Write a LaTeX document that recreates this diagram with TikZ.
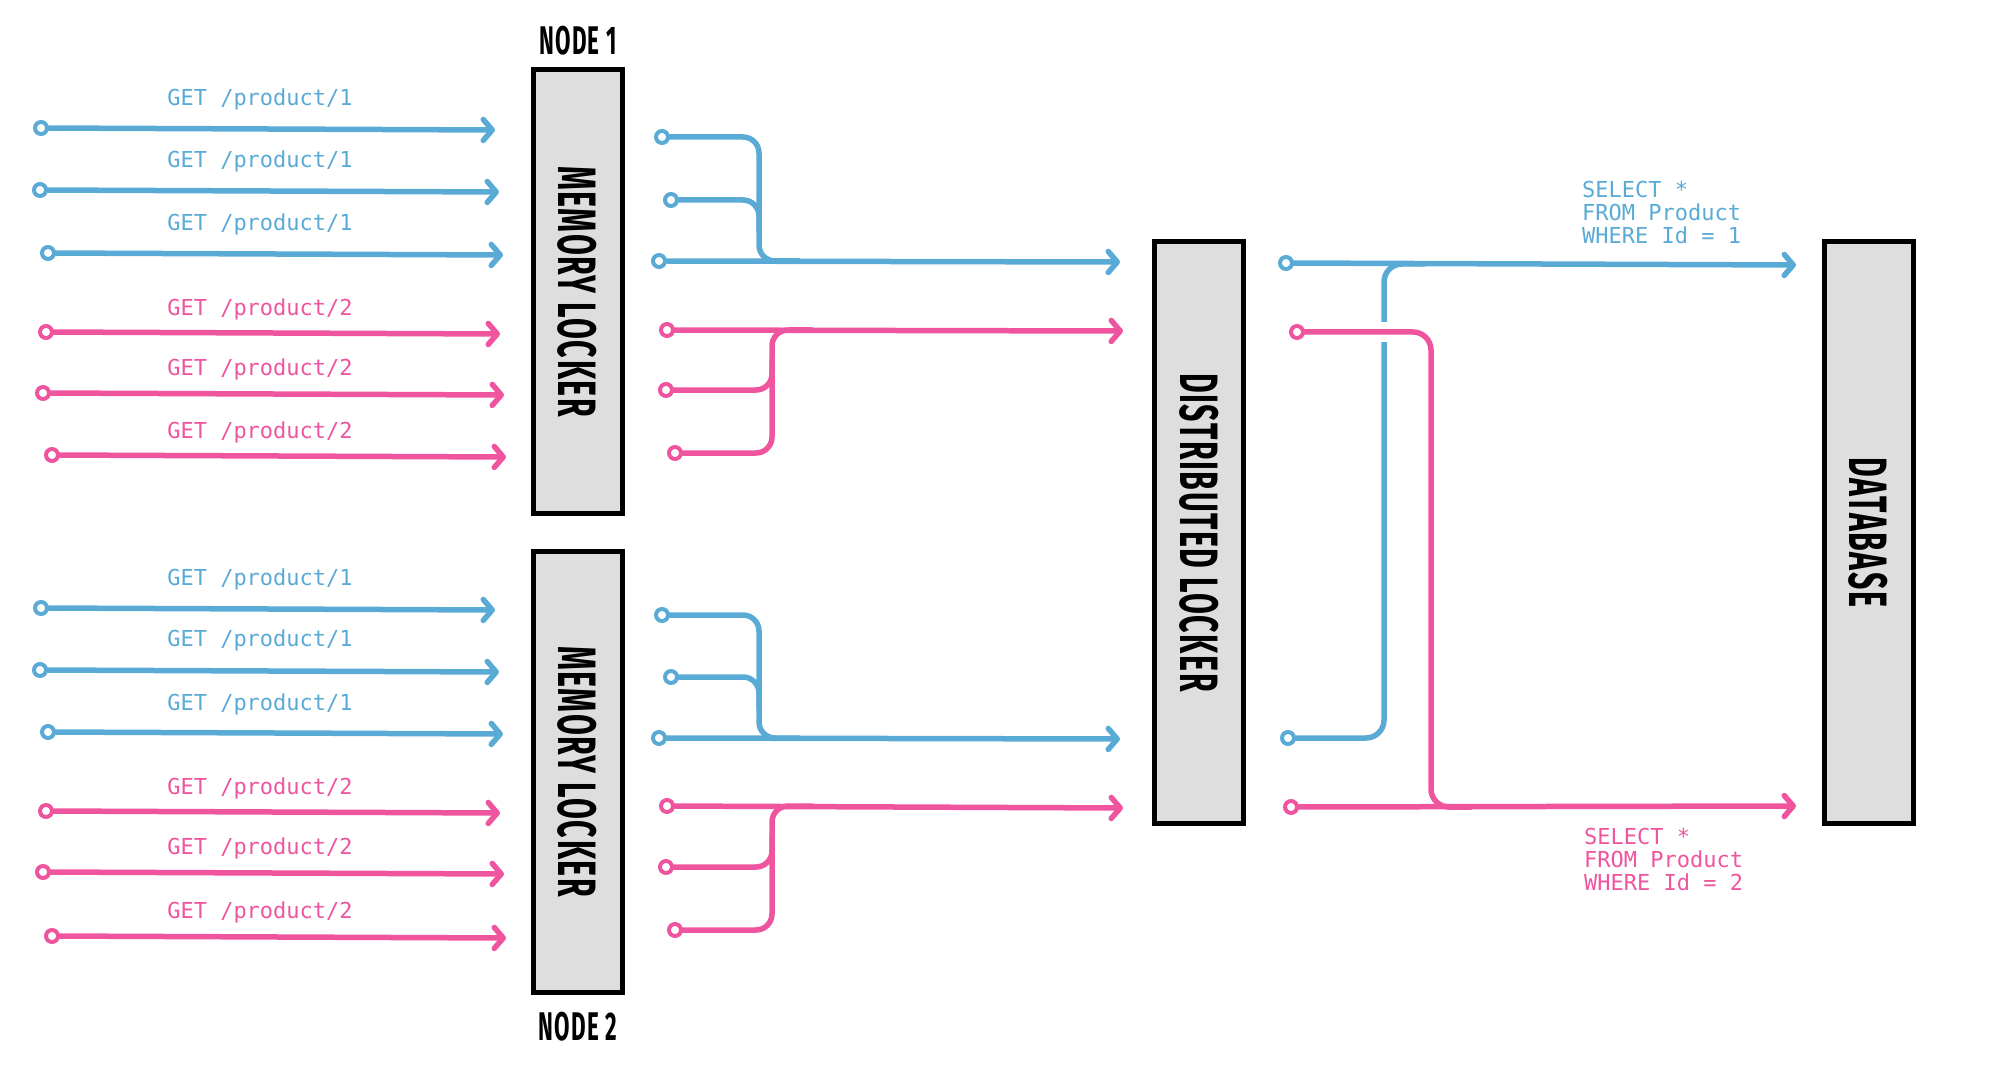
\documentclass[tikz,border=0pt]{standalone}
\usepackage{fontspec}
\usetikzlibrary{arrows.meta}
\usetikzlibrary{calc}
\usepackage{xcolor}
\newfontfamily\handfont[FakeStretch=0.56, LetterSpace=3]{Fira Sans}
\newfontfamily\codefont{DejaVu Sans Mono}
\definecolor{reqblue}{HTML}{5AAAD6}
\definecolor{reqpink}{HTML}{EF559F}
\definecolor{boxgray}{HTML}{DEDEDE}

\tikzset{
  wire/.style={line width=5.5pt, line cap=round, line join=round},
  bwire/.style={wire, draw=reqblue},
  pwire/.style={wire, draw=reqpink},
  barrow/.style={bwire, -{Straight Barb[length=9pt, width=21pt, round]}},
  parrow/.style={pwire, -{Straight Barb[length=9pt, width=21pt, round]}},
  port/.style={circle, fill=white, line width=4pt, inner sep=0pt, minimum size=12pt},
  bport/.style={port, draw=reqblue},
  pport/.style={port, draw=reqpink},
  locker/.style={draw=black, line width=5pt, fill=boxgray, rotate=-90, inner sep=0pt,
    minimum height=89pt, font=\handfont\bfseries\fontsize{54}{54}\selectfont},
  nodetitle/.style={font=\handfont\bfseries\fontsize{40}{40}\selectfont},
  getlbl/.style={inner sep=0pt, font=\codefont\fontsize{22}{22}\selectfont},
  sqllbl/.style={inner sep=0pt, anchor=north west, align=left, font=\codefont\fontsize{22}{23}\selectfont},
}

\begin{document}
\begin{tikzpicture}[x=1pt, y=-1pt]
        \useasboundingbox (0,0) rectangle (2000,1067);

        % ロッカー
        \node[locker, minimum width=443pt] (mem1) at (577.5,291.5) {MEMORY LOCKER};
        \node[locker, minimum width=441pt] (mem2) at (577.5,771.5) {MEMORY LOCKER};
        \node[locker, minimum width=581pt] (dist) at (1199,532.5) {DISTRIBUTED LOCKER};
        \node[locker, minimum width=581pt] (db) at (1868.5,532.5) {DATABASE};
        \node[nodetitle] (title1) at (578,41) {NODE 1};
        \node[nodetitle] (title2) at (578,1027) {NODE 2};

        % ノード1への要求
        \node[bport] (in11) at (41,128) {};
        \node[bport] (in12) at (40,190) {};
        \node[bport] (in13) at (48,253) {};
        \node[pport] (in14) at (46,332) {};
        \node[pport] (in15) at (43,393) {};
        \node[pport] (in16) at (52,455) {};
        \coordinate (to11) at (495,130);
        \coordinate (to12) at (499,192);
        \coordinate (to13) at (503,255);
        \coordinate (to14) at (500,334);
        \coordinate (to15) at (504,395);
        \coordinate (to16) at (506,457);
        \draw[barrow] (in11) -- (to11);
        \draw[barrow] (in12) -- (to12);
        \draw[barrow] (in13) -- (to13);
        \draw[parrow] (in14) -- (to14);
        \draw[parrow] (in15) -- (to15);
        \draw[parrow] (in16) -- (to16);
        \node[getlbl, text=reqblue] (get11) at (260,99) {GET /product/1};
        \node[getlbl, text=reqblue] (get12) at (260,161) {GET /product/1};
        \node[getlbl, text=reqblue] (get13) at (260,224) {GET /product/1};
        \node[getlbl, text=reqpink] (get14) at (260,309) {GET /product/2};
        \node[getlbl, text=reqpink] (get15) at (260,369) {GET /product/2};
        \node[getlbl, text=reqpink] (get16) at (260,432) {GET /product/2};

        % ノード2への要求
        \node[bport] (in21) at (41,608) {};
        \node[bport] (in22) at (40,670) {};
        \node[bport] (in23) at (48,732) {};
        \node[pport] (in24) at (46,811) {};
        \node[pport] (in25) at (43,872) {};
        \node[pport] (in26) at (52,936) {};
        \coordinate (to21) at (495,610);
        \coordinate (to22) at (499,672);
        \coordinate (to23) at (503,734);
        \coordinate (to24) at (500,813);
        \coordinate (to25) at (504,874);
        \coordinate (to26) at (506,938);
        \draw[barrow] (in21) -- (to21);
        \draw[barrow] (in22) -- (to22);
        \draw[barrow] (in23) -- (to23);
        \draw[parrow] (in24) -- (to24);
        \draw[parrow] (in25) -- (to25);
        \draw[parrow] (in26) -- (to26);
        \node[getlbl, text=reqblue] (get21) at (260,579) {GET /product/1};
        \node[getlbl, text=reqblue] (get22) at (260,640) {GET /product/1};
        \node[getlbl, text=reqblue] (get23) at (260,704) {GET /product/1};
        \node[getlbl, text=reqpink] (get24) at (260,788) {GET /product/2};
        \node[getlbl, text=reqpink] (get25) at (260,848) {GET /product/2};
        \node[getlbl, text=reqpink] (get26) at (260,912) {GET /product/2};

        % ノード1 -> 分散ロッカー
        \node[bport] (mb11) at (662,137) {};
        \node[bport] (mb12) at (671,200) {};
        \node[bport] (mb13) at (659,261) {};
        \node[pport] (mp11) at (667,330) {};
        \node[pport] (mp12) at (666,390) {};
        \node[pport] (mp13) at (675,453) {};
        \coordinate (jb1) at (759,261);
        \coordinate (jp1) at (772,330);
        \coordinate (ob1) at (1120,262);
        \coordinate (op1) at (1123,331);
        \draw[barrow] (mb13) -- (ob1);
        \draw[bwire, rounded corners=16pt] (mb11) -| (jb1) -- ++(40,0);
        \draw[bwire, rounded corners=16pt] (mb12) -| ($(jb1)+(0,-30)$);
        \draw[parrow] (mp11) -- (op1);
        \draw[pwire, rounded corners=16pt] (mp13) -| (jp1) -- ++(40,0);
        \draw[pwire, rounded corners=16pt] (mp12) -| ($(jp1)+(0,30)$);

        % ノード2 -> 分散ロッカー
        \node[bport] (mb21) at (662,615) {};
        \node[bport] (mb22) at (671,677) {};
        \node[bport] (mb23) at (659,738) {};
        \node[pport] (mp21) at (667,806) {};
        \node[pport] (mp22) at (666,867) {};
        \node[pport] (mp23) at (675,930) {};
        \coordinate (jb2) at (759,738);
        \coordinate (jp2) at (772,806);
        \coordinate (ob2) at (1120,739);
        \coordinate (op2) at (1123,808);
        \draw[barrow] (mb23) -- (ob2);
        \draw[bwire, rounded corners=16pt] (mb21) -| (jb2) -- ++(40,0);
        \draw[bwire, rounded corners=16pt] (mb22) -| ($(jb2)+(0,-30)$);
        \draw[parrow] (mp21) -- (op2);
        \draw[pwire, rounded corners=16pt] (mp23) -| (jp2) -- ++(40,0);
        \draw[pwire, rounded corners=16pt] (mp22) -| ($(jp2)+(0,30)$);

        % 分散ロッカー -> データベース
        \node[bport] (rb1) at (1286,263) {};
        \node[bport] (rb2) at (1288,738) {};
        \node[pport] (rp1) at (1297,332) {};
        \node[pport] (rp2) at (1291,807) {};
        \coordinate (jb3) at (1384,264);
        \coordinate (jp3) at (1431,807);
        \coordinate (qb) at (1796,265);
        \coordinate (qp) at (1796,806);
        \draw[barrow] (rb1) -- (qb);
        \draw[bwire, rounded corners=18pt] (rb2) -| (jb3) -- ++(40,0);
        \fill[white] ($(jb3 |- rp1)+(-6,-10)$) rectangle ($(jb3 |- rp1)+(6,10)$);
        \draw[pwire, rounded corners=18pt] (rp1) -| (jp3) -- ++(40,0);
        \draw[parrow] (rp2) -- (qp);
        \node[sqllbl, text=reqblue] (sql1) at (1582,181) {SELECT *\\FROM Product\\WHERE Id = 1};
        \node[sqllbl, text=reqpink] (sql2) at (1584,828) {SELECT *\\FROM Product\\WHERE Id = 2};

\end{tikzpicture}
\end{document}
